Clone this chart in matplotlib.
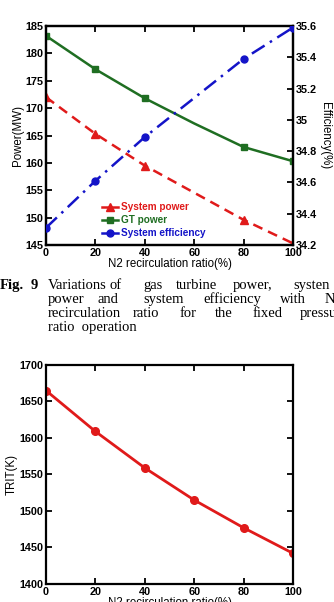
import matplotlib
matplotlib.use("Agg")
from matplotlib import pyplot as plt
from matplotlib.lines import Line2D

# 数据
ratio = [0, 20, 40, 60, 80, 100]
sys_power_x = [0, 20, 40, 80, 100]
sys_power = [172.0, 165.3, 159.5, 149.6, 145.3]
gt_power_x = [0, 20, 40, 60, 80, 100]
gt_power = [183.2, 177.1, 171.8, 167.2, 162.9, 160.3]
eff_x = [0, 20, 40, 80, 100]
efficiency = [34.31, 34.61, 34.89, 35.39, 35.59]
trit = [1665, 1609, 1559, 1515, 1477, 1442]

power_ticks = [145, 150, 155, 160, 165, 170, 175, 180, 185]
eff_ticks = [34.2, 34.4, 34.6, 34.8, 35.0, 35.2, 35.4, 35.6]
eff_ticklabels = ["34.2", "34.4", "34.6", "34.8", "35", "35.2", "35.4", "35.6"]
trit_ticks = [1400, 1450, 1500, 1550, 1600, 1650, 1700]
x_ticks = [0, 20, 40, 60, 80, 100]

RED = "#e01a1a"
GREEN = "#1f6e22"
BLUE = "#1414c8"

plt.rcParams["font.family"] = ["Liberation Sans", "DejaVu Sans"]
plt.rcParams["font.weight"] = "bold"
plt.rcParams["font.size"] = 8.3

W, H = 334, 602
fig = plt.figure(figsize=(W / 100, H / 100), dpi=100)


def style_axes(ax):
    for s in ax.spines.values():
        s.set_linewidth(1.6)
    ax.tick_params(direction="in", length=4, width=1.3, pad=2, labelsize=7.8)


# 上图: power / efficiency
ax1 = fig.add_axes([46 / W, 1 - 245 / H, 247 / W, 219 / H])
ax2 = ax1.twinx()
ax1.plot(sys_power_x, sys_power, color=RED, lw=1.8, dashes=(4, 2.5),
         marker="^", ms=6, zorder=3)
ax1.plot(gt_power_x, gt_power, color=GREEN, lw=1.8,
         marker="s", ms=5, markevery=[0, 1, 2, 4, 5], zorder=3)
ax2.plot(eff_x, efficiency, color=BLUE, lw=1.8, dashes=(6, 2.5, 1, 2.5),
         marker="o", ms=5, zorder=3)
ax1.set_xlim(0, 100)
ax1.set_ylim(145, 185)
ax2.set_ylim(34.2, 35.6)
ax1.set_xticks(x_ticks)
ax1.set_yticks(power_ticks)
ax2.set_yticks(eff_ticks)
ax2.set_yticklabels(eff_ticklabels)
style_axes(ax1)
style_axes(ax2)
ax1.tick_params(top=True)
ax1.set_xlabel("N2 recirculation ratio(%)", labelpad=0)
ax1.set_ylabel("Power(MW)", labelpad=1)
ax2.set_ylabel("Efficiency(%)", rotation=270, labelpad=10)

handles = [
    Line2D([], [], color=RED, lw=1.8, marker="^", ms=6),
    Line2D([], [], color=GREEN, lw=1.8, marker="s", ms=5),
    Line2D([], [], color=BLUE, lw=1.8, marker="o", ms=5),
]
ax1.legend(handles, ["System power", "GT power", "System efficiency"],
           labelcolor=[RED, GREEN, BLUE], frameon=False, numpoints=1,
           handlelength=1.6, handletextpad=0.3, labelspacing=0.3,
           fontsize=7.2, loc="lower left", bbox_to_anchor=(0.19, -0.01))

# 图注 (baseline y in pixels)
caption = [
    (289, [("Fig.", 0, True), ("9", 31, True), ("Variations", 48, False),
           ("of", 110, False), ("gas", 143, False), ("turbine", 176, False),
           ("power,", 233, False), ("systen", 293, False)]),
    (303, [("power", 48, False), ("and", 97, False), ("system", 143, False),
           ("efficiency", 203, False), ("with", 280, False), ("N", 325, False)]),
    (317, [("recirculation", 48, False), ("ratio", 133, False), ("for", 180, False),
           ("the", 215, False), ("fixed", 253, False), ("pressure", 300, False)]),
    (331, [("ratio  operation", 48, False)]),
]
for y, words in caption:
    for word, x, bold in words:
        fig.text(x / W, 1 - y / H, word, family="Liberation Serif",
                 weight="bold" if bold else "normal", fontsize=10.5, va="baseline")

# 下图: TRIT
ax3 = fig.add_axes([46 / W, 1 - 584 / H, 247 / W, 219 / H])
ax3.plot(ratio, trit, color=RED, lw=2, marker="o", ms=5.5)
ax3.set_xlim(0, 100)
ax3.set_ylim(1400, 1700)
ax3.set_xticks(x_ticks)
ax3.set_yticks(trit_ticks)
style_axes(ax3)
ax3.tick_params(top=True, right=True)
ax3.set_xlabel("N2 recirculation ratio(%)", labelpad=0)
ax3.set_ylabel("TRIT(K)", labelpad=1)

plt.savefig("out.png", dpi=100)
